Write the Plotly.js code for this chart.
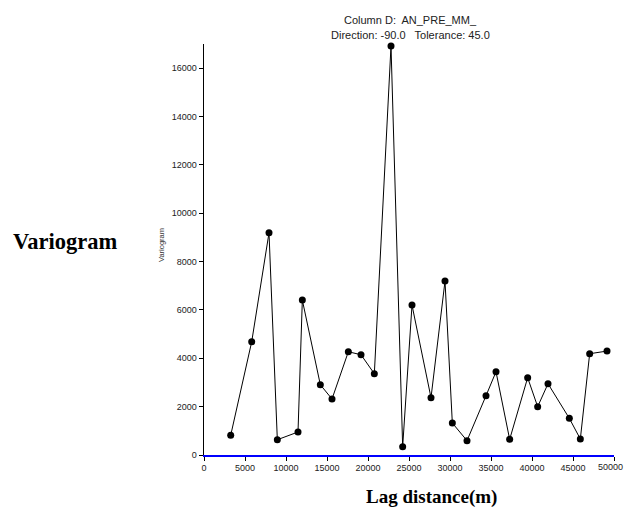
<!DOCTYPE html>
<html><head><meta charset="utf-8">
<script src="https://cdn.plot.ly/plotly-3.0.1.min.js"></script>
<style>html,body{margin:0;padding:0;background:#fff;overflow:hidden;}#chart{width:626px;height:510px;}</style>
</head><body><div id="chart"></div>
<script>
const lagDistance = [3256, 5817, 7927, 8943, 11463, 11992, 14187, 15610, 17602, 19146, 20772, 22805, 24228, 25366, 27683, 29390, 30285, 32073, 34390, 35610, 37276, 39472, 40691, 41951, 44553, 45894, 47033, 49146];
const variogram = [814, 4683, 9189, 632, 951, 6407, 2906, 2315, 4271, 4147, 3361, 16920, 345, 6200, 2370, 7192, 1323, 593, 2452, 3444, 647, 3197, 1998, 2948, 1516, 661, 4189, 4299];
const xTicks = [0, 5000, 10000, 15000, 20000, 25000, 30000, 35000, 40000, 45000, 50000];
const yTicks = [0, 2000, 4000, 6000, 8000, 10000, 12000, 14000, 16000];

const L = 204, R = 12, T = 44, B = 55, W = 626, H = 510;
const pw = W - L - R, ph = H - T - B;
function px(xp){return (xp - L)/pw;}
function py(yp){return (H - B - yp)/ph;}
function ann(text, xp, yp, font, extra){
  return Object.assign({text: text, xref: 'paper', yref: 'paper', x: px(xp), y: py(yp),
    xanchor: 'center', yanchor: 'middle', showarrow: false, font: font}, extra || {});
}
const arial = 'Arial, Liberation Sans, sans-serif';
const serif = 'Liberation Serif, Times New Roman, serif';

const trace = {
  x: lagDistance, y: variogram, mode: 'lines+markers', type: 'scatter',
  line: {color: '#000', width: 1},
  marker: {color: '#000', size: 7},
  cliponaxis: false, hoverinfo: 'none'
};
const layout = {
  width: W, height: H,
  margin: {l: L, r: R, t: T, b: B},
  paper_bgcolor: '#fff', plot_bgcolor: '#fff',
  showlegend: false,
  font: {family: arial, color: '#000'},
  xaxis: {
    range: [0, 50000], tickvals: xTicks, ticktext: xTicks.map(String),
    showgrid: false, zeroline: false, showline: true, linecolor: '#0000ff', linewidth: 1.5,
    ticks: 'outside', ticklen: 4, tickcolor: '#000', tickfont: {size: 9, color: '#222'}
  },
  yaxis: {
    range: [0, 17000], tickvals: yTicks, ticktext: yTicks.map(String),
    showgrid: false, zeroline: false, showline: true, linecolor: '#000', linewidth: 1.5,
    ticks: 'outside', ticklen: 4, tickcolor: '#000', tickfont: {size: 9, color: '#222'}
  },
  annotations: [
    ann('Column D:  AN_PRE_MM_', 410, 20, {family: arial, size: 11, color: '#222'}),
    ann('Direction: -90.0   Tolerance: 45.0', 410, 35, {family: arial, size: 11, color: '#222'}),
    ann('<b>Variogram</b>', 64.5, 241, {family: serif, size: 22.5, color: '#000'}),
    ann('<b>Lag distance(m)</b>', 431, 497, {family: serif, size: 19, color: '#000'}),
    ann('Variogram', 162, 245, {family: arial, size: 7.5, color: '#333'}, {textangle: -90}),
    ann(String(xTicks[xTicks.length - 1]), 625, 467, {family: arial, size: 9, color: '#222'}, {xanchor: 'right'})
  ]
};
Plotly.newPlot('chart', [trace], layout, {displayModeBar: false, staticPlot: true});
</script></body></html>
